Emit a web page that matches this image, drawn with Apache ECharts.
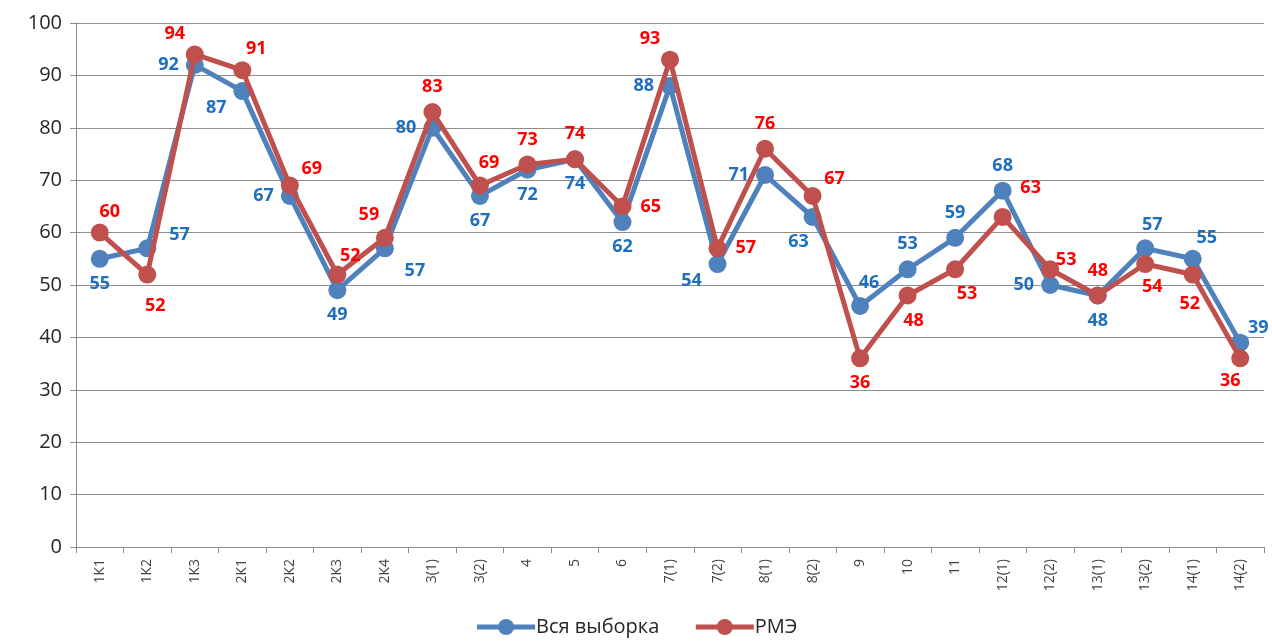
<!DOCTYPE html>
<html>
<head>
<meta charset="utf-8">
<script src="https://cdn.jsdelivr.net/npm/echarts@6/dist/echarts.min.js"></script>
<style>
  html, body { margin: 0; padding: 0; background: #fff; }
  #chart { width: 1272px; height: 642px; }
</style>
</head>
<body>
<div id="chart"></div>
<script>
// категории по оси X
var categories = ['1К1', '1К2', '1К3', '2К1', '2К2', '2К3', '2К4', '3(1)', '3(2)', '4', '5', '6',
  '7(1)', '7(2)', '8(1)', '8(2)', '9', '10', '11', '12(1)', '12(2)', '13(1)', '13(2)', '14(1)', '14(2)'];

// значения рядов
var allSample = [55, 57, 92, 87, 67, 49, 57, 80, 67, 72, 74, 62, 88, 54, 71, 63, 46, 53, 59, 68, 50, 48, 57, 55, 39];
var rme = [60, 52, 94, 91, 69, 52, 59, 83, 69, 73, 74, 65, 93, 57, 76, 67, 36, 48, 53, 63, 53, 48, 54, 52, 36];

// размещение подписей: [сторона, сдвиг x, сдвиг y]
var bluePos = [
  ['bottom', 0, 2], ['right', 8, -13], ['left', -2, 0], ['bottom', -26, -6], ['left', -2, 0],
  ['bottom', 0, 2], ['bottom', 30, 0], ['left', -2, 0], ['bottom', 0, 2], ['bottom', 0, 2],
  ['bottom', 0, 2], ['bottom', 0, 2], ['left', -2, 0], ['bottom', -26, -6], ['left', -2, 0],
  ['bottom', -14, 2], ['top', 9, 0], ['top', 0, -2], ['top', 0, -2], ['top', 0, -2],
  ['left', -2, 0], ['bottom', 0, 2], ['top', 7, 0], ['top', 14, 2], ['top', 18, 8]
];
var redPos = [
  ['top', 10, 2], ['bottom', 8, 8], ['top', -20, 2], ['top', 14, 2], ['top', 22, 6],
  ['top', 13, 4], ['top', -16, 0], ['top', 0, -2], ['top', 9, 0], ['top', 0, -2],
  ['top', 0, -2], ['right', 4, 0], ['top', -20, 2], ['right', 4, 0], ['top', 0, -2],
  ['top', 22, 6], ['bottom', 0, 2], ['bottom', 6, 2], ['bottom', 12, 2], ['top', 28, -6],
  ['top', 16, 14], ['top', 0, -2], ['bottom', 7, 0], ['bottom', -3, 6], ['bottom', -10, 0]
];

function buildData(values, pos) {
  return values.map(function (v, i) {
    var p = pos[i];
    return { value: v, label: { position: p[0], offset: [p[1], p[2]] } };
  });
}

var labelFont = { fontFamily: 'Open Sans', fontSize: 18, fontWeight: 'bold' };

var option = {
  animation: false,
  backgroundColor: '#fff',
  grid: { left: 76, right: 8, top: 23, bottom: 95 },
  xAxis: {
    type: 'category',
    data: categories,
    boundaryGap: true,
    axisLine: { lineStyle: { color: '#8c8c8c' } },
    axisTick: { show: true, length: 6, lineStyle: { color: '#8c8c8c' } },
    axisLabel: { rotate: 90, color: '#404040', fontFamily: 'Open Sans', fontSize: 14, margin: 12, interval: 0 }
  },
  yAxis: {
    type: 'value',
    min: 0,
    max: 100,
    interval: 10,
    axisLine: { show: true, lineStyle: { color: '#8c8c8c' } },
    axisTick: { show: true, length: 6, lineStyle: { color: '#8c8c8c' } },
    axisLabel: { color: '#262626', fontFamily: 'Open Sans', fontSize: 20, margin: 14 },
    splitLine: { lineStyle: { color: '#8c8c8c' } }
  },
  legend: {
    bottom: 0,
    left: 'center',
    itemWidth: 58,
    itemHeight: 20,
    itemGap: 34,
    lineStyle: { width: 5 },
    textStyle: { color: '#262626', fontFamily: 'Open Sans', fontSize: 20, padding: [0, 0, 0, -4] },
    data: ['Вся выборка', 'РМЭ']
  },
  series: [
    {
      name: 'Вся выборка',
      type: 'line',
      data: buildData(allSample, bluePos),
      symbol: 'circle',
      symbolSize: 18,
      lineStyle: { width: 5, color: '#4F81BD' },
      itemStyle: { color: '#4F81BD' },
      label: Object.assign({ show: true, color: '#1F6FBF' }, labelFont),
      z: 2
    },
    {
      name: 'РМЭ',
      type: 'line',
      data: buildData(rme, redPos),
      symbol: 'circle',
      symbolSize: 18,
      lineStyle: { width: 5, color: '#C0504D' },
      itemStyle: { color: '#C0504D' },
      label: Object.assign({ show: true, color: '#FF0000' }, labelFont),
      z: 3
    }
  ]
};

var chart = echarts.init(document.getElementById('chart'));
chart.setOption(option);
</script>
</body>
</html>
